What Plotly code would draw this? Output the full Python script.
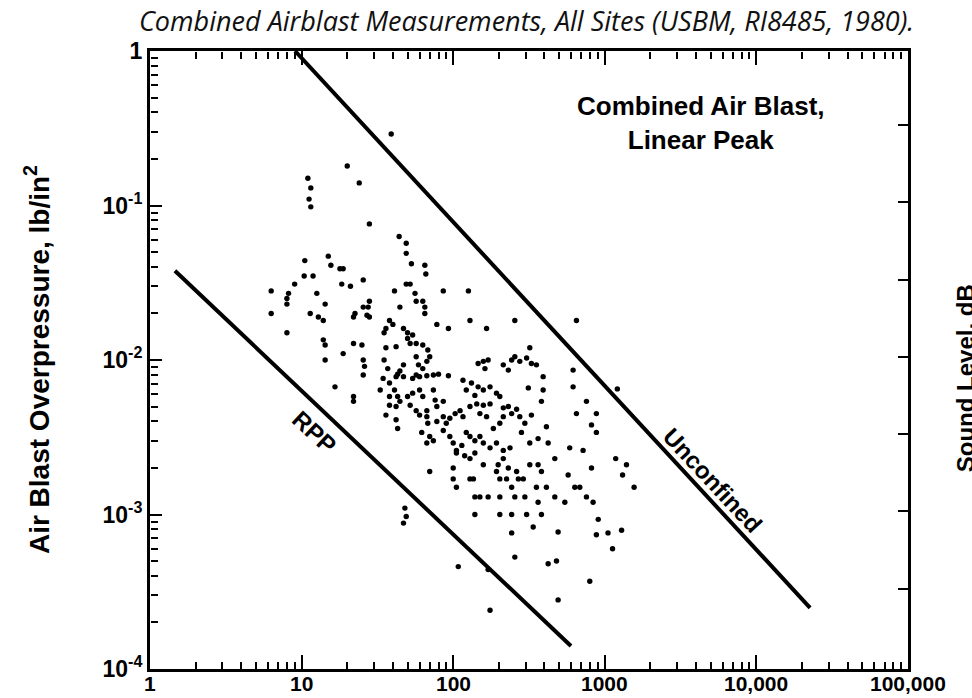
import math
import plotly.graph_objects as go

# ---------------- data ----------------
# scaled distance (x) and peak overpressure, lb/in^2 (y) of each measurement
pts_x = [
    39, 20, 24, 11, 11.5, 11.2, 11.5, 28, 44, 49,
    10.5, 15, 15.6, 17.9, 18.8, 49, 53, 65, 66, 10.4, 11.9, 9.0, 18.4, 21, 25.5,
    6.3, 8.2, 12.6, 41, 49, 52, 56, 86, 126,
    8.0, 8.0, 14.3, 6.3, 11.4, 12.9, 13.9, 22.5, 22, 25.5, 28, 27.5, 27, 28,
    44.5, 57, 63, 65, 65, 38, 129, 255, 650,
    8.0, 47, 36, 40, 35, 50, 50, 52, 54, 57, 63, 78, 93, 166,
    13.9, 14.3, 22, 25, 36, 42,
    18.8, 14.3, 25.5, 26, 25.5, 68, 70, 57, 59, 63, 67, 47, 44.5, 43, 35, 37,
    146, 158, 170, 162, 214, 231, 243, 255, 275, 305, 328, 354, 320, 618,
    16.6, 22, 22, 34.5, 33, 38, 42, 47, 54, 57, 60, 67, 74, 80, 93,
    38, 41, 43, 44.5, 50, 54, 60, 63, 74, 76, 86,
    116, 122, 132, 139, 146, 158, 175, 193, 203, 313, 392, 392, 382, 618, 757,
    38, 42, 52, 57, 67, 78, 36, 42, 43, 60, 67, 68, 78, 86, 90, 95, 103, 111,
    116, 129, 143, 158, 175, 150, 166, 184, 203, 214, 214, 231, 243, 262, 275,
    297, 328, 650, 880, 817,
    62, 70, 67, 74, 86, 95, 100, 105, 114, 122, 129, 139, 150, 158, 175, 193,
    214, 237, 282, 320, 363, 423, 412, 587, 719, 880,
    70, 100, 105, 119, 129, 139, 158, 198, 214, 231, 262, 269, 290, 193, 203,
    225, 100, 129, 136, 320, 363, 382, 468, 573, 817,
    105, 139, 150, 170, 203, 243, 255, 297, 354, 412, 468, 545, 634, 684, 757,
    837, 363, 48, 139, 203, 243, 305, 382,
    49, 47, 243, 337, 492, 880,
    108, 170, 255, 423, 480, 796, 492, 175,
    1210, 1180, 1390, 1310, 1560, 1050, 1290, 1125, 905,
]
pts_y = [
    0.29, 0.18, 0.14, 0.15, 0.13, 0.11, 0.098, 0.076, 0.063, 0.057,
    0.044, 0.047, 0.041, 0.039, 0.039, 0.049, 0.042, 0.041, 0.036, 0.035, 0.035, 0.031, 0.031, 0.030, 0.033,
    0.028, 0.027, 0.027, 0.028, 0.031, 0.031, 0.027, 0.028, 0.028,
    0.023, 0.025, 0.023, 0.020, 0.020, 0.019, 0.018, 0.020, 0.019, 0.022, 0.024, 0.022, 0.0195, 0.019,
    0.022, 0.024, 0.024, 0.022, 0.020, 0.018, 0.018, 0.018, 0.018,
    0.015, 0.016, 0.016, 0.017, 0.015, 0.015, 0.0138, 0.0128, 0.0145, 0.0128, 0.0125, 0.017, 0.016, 0.016,
    0.0135, 0.0125, 0.0128, 0.0125, 0.012, 0.0122,
    0.011, 0.010, 0.010, 0.0091, 0.0080, 0.0116, 0.0105, 0.0105, 0.0093, 0.0088, 0.0098, 0.0093, 0.0085, 0.0081, 0.010, 0.0088,
    0.0095, 0.0098, 0.010, 0.0088, 0.0093, 0.0086, 0.010, 0.0105, 0.0098, 0.0103, 0.0095, 0.0093, 0.012, 0.0086,
    0.0067, 0.0058, 0.0054, 0.0076, 0.0064, 0.0071, 0.0078, 0.0078, 0.0076, 0.0080, 0.0078, 0.0079, 0.0080, 0.0081, 0.0079,
    0.0058, 0.0064, 0.0058, 0.0054, 0.0058, 0.0061, 0.0064, 0.0058, 0.0064, 0.0055, 0.0054,
    0.0074, 0.0064, 0.0071, 0.0059, 0.0067, 0.0064, 0.0067, 0.0061, 0.0058, 0.0066, 0.0078, 0.0064, 0.0054, 0.0067, 0.0054,
    0.0051, 0.0050, 0.0051, 0.0047, 0.0047, 0.0050, 0.0044, 0.0041, 0.0036, 0.0044, 0.0043, 0.0039, 0.0040, 0.0043, 0.0039, 0.0042, 0.0045, 0.0047,
    0.0043, 0.0050, 0.0052, 0.0051, 0.0052, 0.0045, 0.0043, 0.0036, 0.0039, 0.0043, 0.0049, 0.0050, 0.0045, 0.0048, 0.0043,
    0.0039, 0.0044, 0.0045, 0.0045, 0.0038,
    0.0034, 0.0032, 0.0029, 0.0030, 0.0035, 0.0032, 0.0029, 0.0026, 0.0028, 0.0034, 0.0032, 0.0030, 0.0032, 0.0029, 0.0027, 0.0029,
    0.0026, 0.0027, 0.0034, 0.0029, 0.0031, 0.0029, 0.0037, 0.0027, 0.0026, 0.0034,
    0.0019, 0.0020, 0.0025, 0.0024, 0.0023, 0.0025, 0.0021, 0.0021, 0.0023, 0.0020, 0.0019, 0.0017, 0.0017, 0.0019, 0.0017,
    0.0017, 0.0017, 0.0017, 0.0017, 0.0021, 0.0021, 0.0019, 0.0023, 0.0018, 0.0020,
    0.0015, 0.0013, 0.0013, 0.0013, 0.0013, 0.0015, 0.0013, 0.0013, 0.0015, 0.0015, 0.0013, 0.0012, 0.0015, 0.0015, 0.0013,
    0.0012, 0.0012, 0.0011, 0.0010, 0.0010, 0.0010, 0.0010, 0.0010,
    0.00097, 0.00088, 0.00076, 0.00083, 0.00077, 0.00074,
    0.00046, 0.00044, 0.00053, 0.00048, 0.00050, 0.00037, 0.00028, 0.00024,
    0.0065, 0.0023, 0.0021, 0.0018, 0.0015, 0.00076, 0.00079, 0.00060, 0.00093,
]

# bounding lines (end points)
unconfined_x = [9.05, 22600]
unconfined_y = [1.0, 0.000249]
rpp_x = [1.46, 598]
rpp_y = [0.0378, 0.000141]

# axis ticks
x_range = [1, 100000]
y_range = [0.0001, 1]
x_tickvals = [1, 10, 100, 1000, 10000, 100000]
x_ticktext = ["1", "10", "100", "1000", "10,000", "100,000"]
y_tickvals = [0.0001, 0.001, 0.01, 0.1, 1]
y_ticktext = ["10<sup>-4</sup>", "10<sup>-3</sup>", "10<sup>-2</sup>", "10<sup>-1</sup>", "1"]
db_tickvals = [100, 110, 120, 130, 140, 150, 160]
db_range = [89.6, 169.6]

title_text = "Combined Airblast Measurements, All Sites (USBM, RI8485, 1980)."
ytitle_text = "Air Blast Overpressure, lb/in<sup>2</sup>"
y2title_text = "Sound Level, dB"
box_text = "Combined Air Blast,<br>Linear Peak"

# ---------------- figure ----------------
BOLD = dict(family="Liberation Sans, Arial, sans-serif", color="black", weight="bold")

x_minor = [m * 10 ** k for k in range(0, 5) for m in range(2, 10)]
y_minor = [m * 10.0 ** k for k in range(-4, 0) for m in range(2, 10)]

fig = go.Figure()
fig.add_trace(go.Scatter(
    x=pts_x, y=pts_y, mode="markers",
    marker=dict(color="black", size=5.4, line=dict(width=0)),
    showlegend=False, hoverinfo="skip"))
fig.add_trace(go.Scatter(
    x=unconfined_x, y=unconfined_y, mode="lines",
    line=dict(color="black", width=4), showlegend=False, hoverinfo="skip",
    cliponaxis=False))
fig.add_trace(go.Scatter(
    x=rpp_x, y=rpp_y, mode="lines",
    line=dict(color="black", width=4), showlegend=False, hoverinfo="skip"))

# invisible traces that activate the extra axes (dB axis and minor-tick axes)
INVIS = dict(mode="lines", line=dict(width=0, color="rgba(0,0,0,0)"),
             showlegend=False, hoverinfo="skip")
fig.add_trace(go.Scatter(x=x_range, y=db_range, xaxis="x", yaxis="y2", **INVIS))
fig.add_trace(go.Scatter(x=x_range, y=y_range, xaxis="x2", yaxis="y", **INVIS))
fig.add_trace(go.Scatter(x=x_range, y=y_range, xaxis="x3", yaxis="y", **INVIS))
fig.add_trace(go.Scatter(x=x_range, y=y_range, xaxis="x", yaxis="y3", **INVIS))

common = dict(showgrid=False, zeroline=False, tickcolor="black", automargin=False)
minor_x = dict(type="log", range=[0, 5], overlaying="x", side="bottom",
               tickmode="array", tickvals=x_minor, ticklen=7, tickwidth=1.5,
               showticklabels=False, showline=False, **common)

fig.update_layout(
    width=972, height=698,
    margin=dict(l=150, r=64, t=51, b=29, autoexpand=False),
    paper_bgcolor="white", plot_bgcolor="white",
    showlegend=False,
    xaxis=dict(
        type="log", range=[0, 5], tickmode="array",
        tickvals=x_tickvals, ticktext=x_ticktext, showticklabels=False,
        ticks="inside", ticklen=14, tickwidth=2,
        showline=True, linewidth=3, linecolor="black", mirror="ticks",
        **common,
    ),
    # minor ticks along the bottom edge
    xaxis2=dict(anchor="y", ticks="inside", **minor_x),
    # minor ticks along the top edge (bottom-sided axis placed at the top, ticks pointing down)
    xaxis3=dict(anchor="free", position=1, ticks="outside", **minor_x),
    yaxis=dict(
        type="log", range=[-4, 0], tickmode="array",
        tickvals=y_tickvals, ticktext=y_ticktext,
        ticks="inside", ticklen=12, tickwidth=2,
        showline=True, linewidth=3, linecolor="black", mirror=False,
        tickfont=dict(size=23, **BOLD),
        **common,
    ),
    yaxis2=dict(
        overlaying="y", side="right", anchor="x",
        range=db_range, tickmode="array", tickvals=db_tickvals,
        ticks="inside", ticklen=10, tickwidth=2,
        showticklabels=False,
        showline=True, linewidth=3, linecolor="black", **common,
    ),
    # minor ticks along the left edge (right-sided axis placed at the left, ticks pointing right)
    yaxis3=dict(
        type="log", range=[-4, 0], overlaying="y", side="right",
        anchor="free", position=0,
        tickmode="array", tickvals=y_minor,
        ticks="outside", ticklen=7, tickwidth=1.5,
        showticklabels=False, showline=False, **common,
    ),
)

# x tick labels, kept just inside the bottom edge of the page
for v, t in zip(x_tickvals, x_ticktext):
    fig.add_annotation(
        text=t, xref="x", yref="paper", x=math.log10(v), y=-0.0435,
        xanchor="center", yanchor="bottom", showarrow=False, borderpad=0,
        font=dict(size=21, **BOLD))

# title
fig.add_annotation(
    text=title_text, xref="paper", yref="paper", x=0.497, y=1.050,
    xanchor="center", yanchor="middle", showarrow=False,
    font=dict(family="Open Sans, Noto Sans, sans-serif", size=27, color="#111", style="italic"))
# y axis title
fig.add_annotation(
    text=ytitle_text, xref="paper", yref="paper", x=-0.149, y=0.5,
    textangle=-90, xanchor="center", yanchor="middle", showarrow=False,
    font=dict(size=28, **BOLD))
# right axis title (cut at page edge, as in the reference)
fig.add_annotation(
    text=y2title_text, xref="paper", yref="paper", x=1.077, y=0.471,
    textangle=-90, xanchor="center", yanchor="middle", showarrow=False,
    font=dict(size=24, **BOLD))
# in-plot labels (positions in log10 units)
fig.add_annotation(
    text=box_text, xref="x", yref="y", x=3.635, y=-0.466,
    xanchor="center", yanchor="middle", showarrow=False, align="center",
    font=dict(size=26, **BOLD))
fig.add_annotation(
    text="RPP", xref="x", yref="y", x=1.088, y=-2.466, textangle=43,
    xanchor="center", yanchor="middle", showarrow=False,
    font=dict(size=24, **BOLD))
fig.add_annotation(
    text="Unconfined", xref="x", yref="y", x=3.714, y=-2.777, textangle=47,
    xanchor="center", yanchor="middle", showarrow=False,
    font=dict(size=24, **BOLD))

fig.write_html("out.html")
